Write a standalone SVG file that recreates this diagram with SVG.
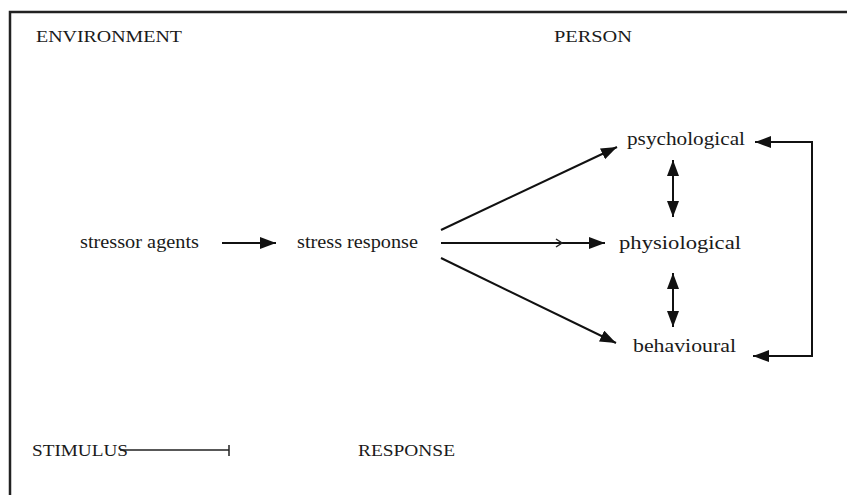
<svg xmlns="http://www.w3.org/2000/svg" width="847" height="495" viewBox="0 0 847 495">
  <defs>
    <marker id="head" viewBox="0 0 16 12" refX="16" refY="6" markerWidth="16" markerHeight="12" markerUnits="userSpaceOnUse" orient="auto-start-reverse">
      <path d="M0,0 L16,6 L0,12 Z" fill="#111"/>
    </marker>
    <style>
      text { font-family: "Liberation Serif", "Times New Roman", serif; fill: #1a1a1a; font-size: 18px; }
      .caps { font-size: 17px; }
      .edge { stroke: #111; stroke-width: 2; fill: none; }
      .thin { stroke: #222; stroke-width: 1.5; fill: none; }
    </style>
  </defs>
  <rect width="847" height="495" fill="#fff"/>

  <!-- frame: top and left rules only -->
  <g id="frame">
    <path d="M10,495 L10,12 L847,12" stroke="#222" stroke-width="2.5" fill="none"/>
  </g>

  <g id="label-environment"><text class="caps" x="36" y="42" textLength="146" lengthAdjust="spacingAndGlyphs">ENVIRONMENT</text></g>
  <g id="label-person"><text class="caps" x="554" y="42" textLength="78" lengthAdjust="spacingAndGlyphs">PERSON</text></g>

  <g id="node-stressor"><text x="80" y="248" textLength="119" lengthAdjust="spacingAndGlyphs">stressor agents</text></g>
  <g id="node-stress-response"><text x="297" y="248" textLength="121" lengthAdjust="spacingAndGlyphs">stress response</text></g>
  <g id="node-psychological"><text x="627" y="145" textLength="118" lengthAdjust="spacingAndGlyphs">psychological</text></g>
  <g id="node-physiological"><text x="619" y="249" textLength="122" lengthAdjust="spacingAndGlyphs">physiological</text></g>
  <g id="node-behavioural"><text x="633" y="352" textLength="103" lengthAdjust="spacingAndGlyphs">behavioural</text></g>

  <g id="label-stimulus"><text class="caps" x="32" y="456" textLength="96" lengthAdjust="spacingAndGlyphs">STIMULUS</text></g>
  <g id="label-response"><text class="caps" x="358" y="456" textLength="97" lengthAdjust="spacingAndGlyphs">RESPONSE</text></g>

  <g id="connectors">
    <line class="edge" x1="222" y1="243" x2="276" y2="243" marker-end="url(#head)"/>
    <line class="edge" x1="441" y1="230" x2="617" y2="147" marker-end="url(#head)"/>
    <line class="edge" x1="441" y1="243" x2="605" y2="243" marker-end="url(#head)"/>
    <path class="thin" d="M556,239 L562,243 L556,247"/>
    <line class="edge" x1="441" y1="258" x2="616" y2="343" marker-end="url(#head)"/>
    <line class="edge" x1="673" y1="160" x2="673" y2="217" marker-start="url(#head)" marker-end="url(#head)"/>
    <line class="edge" x1="673" y1="273" x2="673" y2="327" marker-start="url(#head)" marker-end="url(#head)"/>
    <path class="edge" d="M753,356 L812,356 L812,142 L755,142" marker-start="url(#head)" marker-end="url(#head)"/>
    <path class="thin" d="M120,450 L229,450 M229,445 L229,456"/>
  </g>
</svg>
